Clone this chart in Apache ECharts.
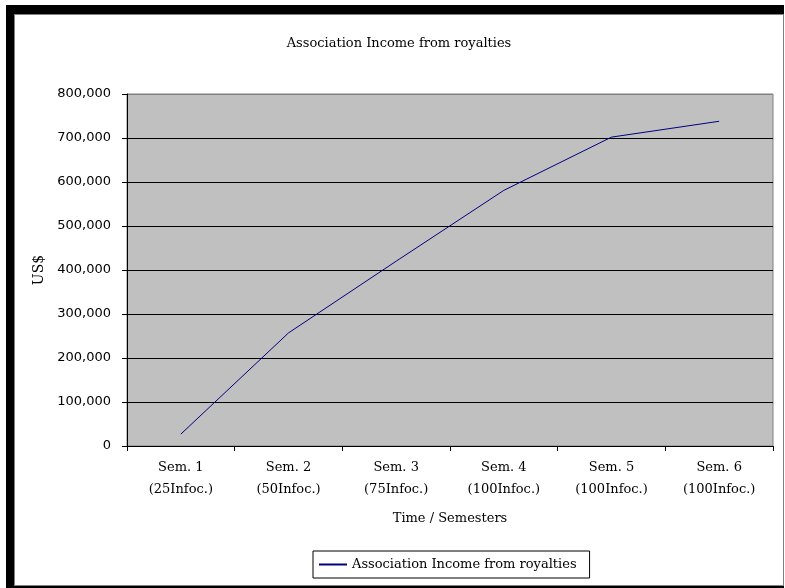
<!DOCTYPE html>
<html>
<head>
<meta charset="utf-8">
<script src="https://cdn.jsdelivr.net/npm/echarts@6/dist/echarts.min.js"></script>
<style>
  html, body { margin: 0; padding: 0; background: #fff; }
  .frame-black { position: absolute; left: 6px; top: 5px; width: 778px; height: 583px; background: #000; }
  .frame-inner { position: absolute; left: 14px; top: 14px; width: 768px; height: 570px; border: 1px solid #808080; background: #fff; }
  #chart { position: absolute; left: 15px; top: 15px; width: 768px; height: 570px; }
</style>
</head>
<body>
<div class="frame-black"></div>
<div class="frame-inner"></div>
<div id="chart"></div>
<script>
// 类目
const semesters = ['Sem. 1\n(25Infoc.)', 'Sem. 2\n(50Infoc.)', 'Sem. 3\n(75Infoc.)',
  'Sem. 4\n(100Infoc.)', 'Sem. 5\n(100Infoc.)', 'Sem. 6\n(100Infoc.)']
// 收入数据 (US$)
const income = [27000, 257000, 420000, 581000, 702000, 738000]
const seriesName = 'Association Income from royalties'

const serif = 'DejaVu Serif'
const chart = echarts.init(document.getElementById('chart'))

// 最上面一条网格线是灰色的边框
const gridColors = ['#000', '#000', '#000', '#000', '#000', '#000', '#000', '#000', '#808080']

chart.setOption({
  animation: false,
  title: {
    text: 'Association Income from royalties',
    left: 'center',
    top: 17,
    textStyle: { fontFamily: serif, fontSize: 13, fontWeight: 'normal', color: '#000' }
  },
  grid: {
    left: 112,
    top: 79,
    right: 10,
    bottom: 139,
    show: true,
    backgroundColor: '#c0c0c0',
    borderColor: '#808080',
    borderWidth: 1
  },
  legend: {
    data: [seriesName],
    top: 536,
    left: 298,
    itemWidth: 28,
    itemHeight: 2,
    itemGap: 5,
    padding: [7, 13, 7, 6],
    borderColor: '#000',
    borderWidth: 1,
    backgroundColor: '#fff',
    icon: 'rect',
    textStyle: { fontFamily: serif, fontSize: 13, color: '#000' }
  },
  xAxis: {
    type: 'category',
    data: semesters,
    boundaryGap: true,
    name: 'Time / Semesters',
    nameLocation: 'middle',
    nameGap: 66,
    nameTextStyle: { fontFamily: serif, fontSize: 13, color: '#000' },
    axisLine: { lineStyle: { color: '#000', width: 1 } },
    axisTick: { show: true, length: 5, lineStyle: { color: '#000' } },
    axisLabel: { fontFamily: serif, fontSize: 13, color: '#000', lineHeight: 22, margin: 11 },
    splitLine: { show: false }
  },
  yAxis: {
    type: 'value',
    min: 0,
    max: 800000,
    interval: 100000,
    name: 'US$',
    nameLocation: 'middle',
    nameGap: 77,
    nameRotate: 90,
    nameTextStyle: { fontFamily: serif, fontSize: 14, color: '#000' },
    axisLine: { show: true, lineStyle: { color: '#000', width: 1 } },
    axisTick: { show: true, length: 5, lineStyle: { color: '#000' } },
    axisLabel: {
      fontFamily: 'DejaVu Sans',
      fontSize: 13,
      color: '#000',
      margin: 16,
      formatter: v => v.toLocaleString('en-US')
    },
    splitLine: { show: true, lineStyle: { color: gridColors, width: 1 } }
  },
  series: [{
    name: seriesName,
    type: 'line',
    data: income,
    symbol: 'none',
    lineStyle: { color: '#000080', width: 1 },
    itemStyle: { color: '#000080' }
  }]
})
</script>
</body>
</html>
